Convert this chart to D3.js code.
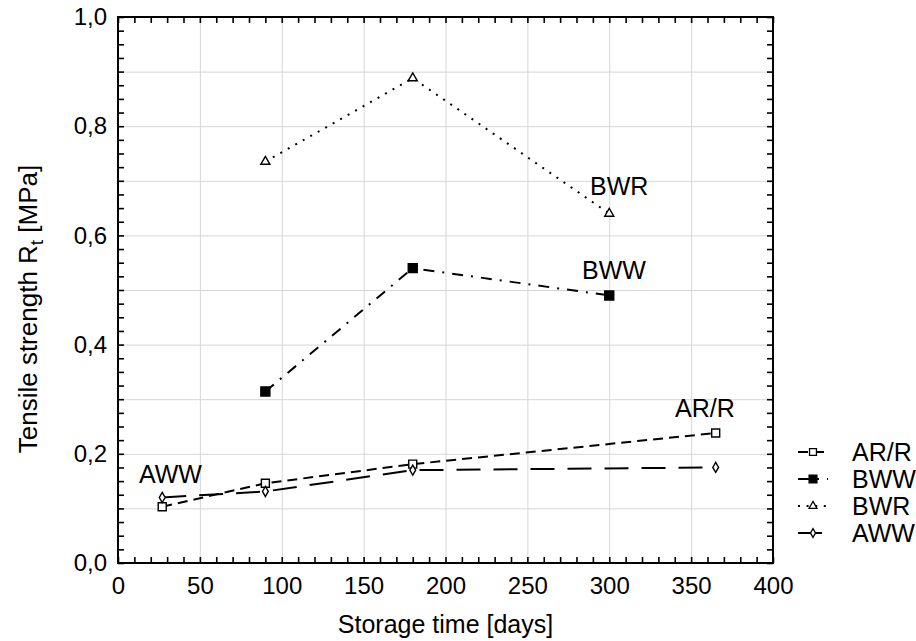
<!DOCTYPE html>
<html>
<head>
<meta charset="utf-8">
<script src="https://cdn.jsdelivr.net/npm/d3@7"></script>
<style>
  body { margin: 0; background: #fff; }
  text { font-family: "Liberation Sans", Arial, sans-serif; fill: #000; }
</style>
</head>
<body>
<div id="graphics-box"></div>
<script>
// DATA
const seriesNames = ["AR/R", "BWW", "BWR", "AWW"];

const arrDays = [27, 90, 180, 365];
const arrValues = [0.103, 0.146, 0.181, 0.238];

const bwwDays = [90, 180, 300];
const bwwValues = [0.314, 0.54, 0.49];

const bwrDays = [90, 180, 300];
const bwrValues = [0.735, 0.888, 0.64];

const awwDays = [27, 90, 180, 365];
const awwValues = [0.12, 0.131, 0.17, 0.175];

const xTicks = [0, 50, 100, 150, 200, 250, 300, 350, 400];
const yTicks = [0, 0.2, 0.4, 0.6, 0.8, 1.0];

// SVG SIZE AND PLOT BOX
const w = 916;
const h = 641;
const plotLeft = 118;
const plotRight = 773;
const plotTop = 17;
const plotBottom = 563;

const svg = d3
  .select("#graphics-box")
  .append("svg")
  .attr("width", w)
  .attr("height", h);

const xScale = d3.scaleLinear().domain([0, 400]).range([plotLeft, plotRight]);
const yScale = d3.scaleLinear().domain([0, 1]).range([plotBottom, plotTop]);

// GRID
svg
  .append("g")
  .attr("class", "grid")
  .attr("transform", "translate(0," + plotBottom + ")")
  .call(d3.axisBottom(xScale).tickValues(xTicks).tickSize(-(plotBottom - plotTop)).tickFormat(""));
svg
  .append("g")
  .attr("class", "grid")
  .attr("transform", "translate(" + plotLeft + ",0)")
  .call(d3.axisLeft(yScale).tickValues(d3.range(0, 1.01, 0.1)).tickSize(-(plotRight - plotLeft)).tickFormat(""));
svg.selectAll(".grid .domain").remove();
svg.selectAll(".grid line").attr("stroke", "#d6d6d6").attr("stroke-width", 1);

// INWARD MINOR TICKS ON ALL FOUR SIDES
const xMinor = d3.range(0, 401, 10);
const yMinor = d3.range(0, 1.001, 0.025);

svg.append("g").attr("class", "ticks").attr("transform", "translate(0," + plotBottom + ")")
  .call(d3.axisBottom(xScale).tickValues(xMinor).tickSize(-6).tickFormat(""));
svg.append("g").attr("class", "ticks").attr("transform", "translate(0," + plotTop + ")")
  .call(d3.axisTop(xScale).tickValues(xMinor).tickSize(-6).tickFormat(""));
svg.append("g").attr("class", "ticks").attr("transform", "translate(" + plotLeft + ",0)")
  .call(d3.axisLeft(yScale).tickValues(yMinor).tickSize(-6).tickFormat(""));
svg.append("g").attr("class", "ticks").attr("transform", "translate(" + plotRight + ",0)")
  .call(d3.axisRight(yScale).tickValues(yMinor).tickSize(-6).tickFormat(""));
svg.selectAll(".ticks .domain").remove();
svg.selectAll(".ticks line").attr("stroke", "#000").attr("stroke-width", 1.6);

// TICK LABELS
const xLabels = svg.append("g").attr("transform", "translate(0," + plotBottom + ")")
  .call(d3.axisBottom(xScale).tickValues(xTicks).tickSize(0).tickPadding(14));
const yLabels = svg.append("g").attr("transform", "translate(" + plotLeft + ",0)")
  .call(d3.axisLeft(yScale).tickValues(yTicks).tickSize(0).tickPadding(11)
    .tickFormat((d) => d3.format(".1f")(d).replace(".", ",")));
xLabels.select(".domain").remove();
yLabels.select(".domain").remove();
svg.selectAll(".tick text")
  .style("font-family", '"Liberation Sans", Arial, sans-serif')
  .style("font-size", "24px")
  .attr("fill", "#000");

// FRAME
svg.append("rect")
  .attr("x", plotLeft).attr("y", plotTop)
  .attr("width", plotRight - plotLeft).attr("height", plotBottom - plotTop)
  .attr("fill", "none").attr("stroke", "#000").attr("stroke-width", 2);

// AXIS TITLES
svg.append("text")
  .attr("x", (plotLeft + plotRight) / 2).attr("y", 633)
  .attr("text-anchor", "middle")
  .style("font-size", "25px")
  .text("Storage time [days]");

const yTitle = svg.append("text")
  .attr("transform", "translate(37,309) rotate(-90)")
  .attr("text-anchor", "middle")
  .style("font-size", "26px");
yTitle.append("tspan").text("Tensile strength R");
yTitle.append("tspan").attr("dy", 6).style("font-size", "19px").text("t");
yTitle.append("tspan").attr("dy", -6).text(" [MPa]");

// SERIES
const series = [
  { name: seriesNames[0], days: arrDays, values: arrValues, dash: "10,6", symbol: d3.symbolSquare, size: 64, fill: "#fff" },
  { name: seriesNames[1], days: bwwDays, values: bwwValues, dash: "11,8,2,8", symbol: d3.symbolSquare, size: 81, fill: "#000" },
  { name: seriesNames[2], days: bwrDays, values: bwrValues, dash: "2,6.6", symbol: d3.symbolTriangle, size: 36, fill: "#fff" },
  { name: seriesNames[3], days: awwDays, values: awwValues, dash: "24,13", symbol: d3.symbolDiamond, size: 29, fill: "#fff" }
];

const line = d3.line().x((d) => xScale(d[0])).y((d) => yScale(d[1]));

series.forEach((s) => {
  const pts = s.days.map((d, i) => [d, s.values[i]]);

  svg.append("path")
    .datum(pts)
    .attr("d", line)
    .attr("fill", "none")
    .attr("stroke", "#000")
    .attr("stroke-width", 2)
    .attr("stroke-dasharray", s.dash);

  svg.selectAll(null)
    .data(pts)
    .enter()
    .append("path")
    .attr("d", d3.symbol().type(s.symbol).size(s.size))
    .attr("transform", (d) => "translate(" + xScale(d[0]) + "," + yScale(d[1]) + ")")
    .attr("fill", s.fill)
    .attr("stroke", "#000")
    .attr("stroke-width", 1.4);
});

// LABELS NEXT TO THE LINES
const labelData = [
  { text: "BWR", x: 590, y: 195 },
  { text: "BWW", x: 582, y: 279 },
  { text: "AR/R", x: 675, y: 417 },
  { text: "AWW", x: 139, y: 483 }
];
svg.selectAll(".series-label")
  .data(labelData)
  .enter()
  .append("text")
  .attr("class", "series-label")
  .attr("x", (d) => d.x)
  .attr("y", (d) => d.y)
  .style("font-size", "25px")
  .text((d) => d.text);

// LEGEND
const legendY = d3.scalePoint().domain(seriesNames).range([452, 533]);
const legend = svg.append("g").attr("id", "legend");

series.forEach((s) => {
  const cy = legendY(s.name);
  legend.append("line")
    .attr("x1", 798).attr("x2", 828)
    .attr("y1", cy).attr("y2", cy)
    .attr("stroke", "#000")
    .attr("stroke-width", 2)
    .attr("stroke-dasharray", s.dash);
  legend.append("path")
    .attr("d", d3.symbol().type(s.symbol).size(s.size * 0.75))
    .attr("transform", "translate(813," + cy + ")")
    .attr("fill", s.fill)
    .attr("stroke", "#000")
    .attr("stroke-width", 1.3);
  legend.append("text")
    .attr("x", 852).attr("y", cy)
    .attr("dy", "0.36em")
    .style("font-size", "25px")
    .text(s.name);
});
</script>
</body>
</html>
